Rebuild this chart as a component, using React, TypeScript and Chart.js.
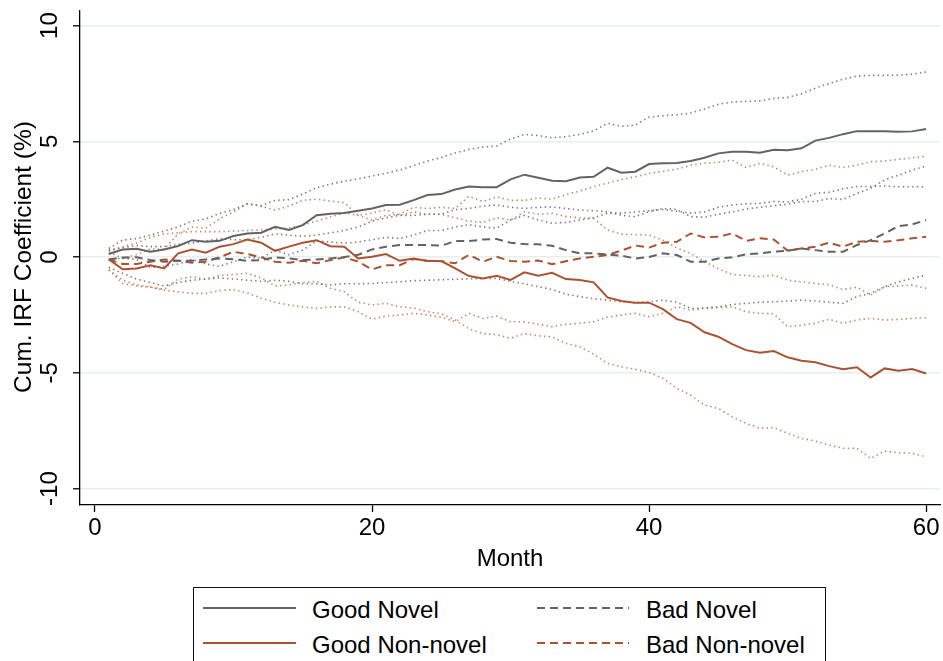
import React, { useEffect, useRef } from "react";
import { Chart, registerables } from "chart.js";

Chart.register(...registerables);

const FONT = "'Liberation Sans', Arial, Helvetica, sans-serif";

// Horizon in months
const months = [
  1, 2, 3, 4, 5, 6, 7, 8, 9, 10, 11, 12, 13, 14, 15, 16, 17, 18, 19, 20,
  21, 22, 23, 24, 25, 26, 27, 28, 29, 30, 31, 32, 33, 34, 35, 36, 37, 38, 39, 40,
  41, 42, 43, 44, 45, 46, 47, 48, 49, 50, 51, 52, 53, 54, 55, 56, 57, 58, 59, 60,
];

// Cumulative IRF point estimates (%)
const goodNovel = [
  0.13, 0.33, 0.36, 0.23, 0.33, 0.48, 0.73, 0.66, 0.70, 0.91,
  1.02, 1.05, 1.31, 1.17, 1.38, 1.81, 1.87, 1.90, 2.00, 2.10,
  2.25, 2.26, 2.46, 2.68, 2.72, 2.92, 3.05, 3.02, 3.02, 3.36,
  3.56, 3.43, 3.30, 3.28, 3.44, 3.47, 3.86, 3.64, 3.69, 4.02,
  4.05, 4.06, 4.15, 4.29, 4.48, 4.55, 4.55, 4.51, 4.64, 4.62,
  4.70, 5.03, 5.15, 5.31, 5.44, 5.44, 5.44, 5.41, 5.43, 5.53,
];
const goodNonNovel = [
  -0.10, -0.53, -0.49, -0.35, -0.49, 0.16, 0.33, 0.19, 0.45, 0.56,
  0.76, 0.62, 0.27, 0.45, 0.62, 0.73, 0.47, 0.45, -0.06, 0.01,
  0.13, -0.16, -0.06, -0.17, -0.17, -0.49, -0.82, -0.92, -0.81, -0.99,
  -0.66, -0.81, -0.68, -0.95, -0.99, -1.09, -1.74, -1.90, -1.97, -1.97,
  -2.25, -2.68, -2.84, -3.25, -3.44, -3.76, -4.02, -4.13, -4.06, -4.33,
  -4.48, -4.54, -4.71, -4.85, -4.76, -5.20, -4.81, -4.91, -4.84, -5.03,
];
const badNovel = [
  -0.10, -0.02, -0.01, -0.13, -0.20, -0.16, -0.16, -0.10, -0.06, -0.10,
  -0.16, -0.13, -0.01, -0.06, -0.13, -0.10, -0.06, 0.00, 0.10, 0.33,
  0.45, 0.52, 0.52, 0.52, 0.49, 0.69, 0.69, 0.76, 0.78, 0.62,
  0.56, 0.55, 0.49, 0.30, 0.16, 0.16, 0.11, 0.06, -0.06, 0.00,
  0.16, 0.09, -0.20, -0.20, -0.06, -0.01, 0.12, 0.16, 0.23, 0.28,
  0.37, 0.30, 0.23, 0.23, 0.52, 0.73, 1.02, 1.34, 1.41, 1.60,
];
const badNonNovel = [
  -0.10, -0.30, -0.30, -0.20, -0.10, -0.16, -0.24, -0.20, -0.01, 0.23,
  0.13, -0.01, -0.20, -0.24, -0.16, -0.27, -0.13, -0.01, -0.20, -0.53,
  -0.35, -0.35, -0.08, -0.16, -0.18, -0.27, 0.10, -0.20, 0.01, -0.17,
  -0.20, -0.15, -0.31, -0.18, -0.06, 0.01, 0.09, 0.28, 0.50, 0.41,
  0.62, 0.66, 1.02, 0.85, 0.88, 1.02, 0.70, 0.81, 0.76, 0.28,
  0.37, 0.45, 0.62, 0.45, 0.66, 0.70, 0.66, 0.73, 0.81, 0.88,
];

// Confidence bands (upper / lower)
const goodNovelHi = [
  0.37, 0.73, 0.80, 0.95, 1.12, 1.30, 1.55, 1.65, 1.88, 2.05,
  2.30, 2.22, 2.45, 2.48, 2.72, 3.00, 3.15, 3.28, 3.38, 3.50,
  3.62, 3.76, 3.95, 4.15, 4.30, 4.50, 4.65, 4.75, 4.80, 5.10,
  5.30, 5.25, 5.15, 5.20, 5.30, 5.45, 5.78, 5.65, 5.70, 6.05,
  6.10, 6.15, 6.22, 6.40, 6.60, 6.70, 6.72, 6.75, 6.85, 6.90,
  7.05, 7.30, 7.50, 7.68, 7.82, 7.85, 7.85, 7.86, 7.90, 8.00,
];
const goodNovelLo = [
  -0.10, -0.05, -0.10, -0.45, -0.40, -0.30, -0.10, -0.30, -0.40, -0.20,
  0.00, -0.05, 0.30, 0.10, 0.30, 0.70, 0.65, 0.60, 0.65, 0.75,
  0.85, 0.80, 0.95, 1.15, 1.15, 1.30, 1.40, 1.30, 1.25, 1.60,
  1.80, 1.60, 1.46, 1.50, 1.60, 1.70, 1.90, 1.90, 1.95, 2.00,
  2.05, 1.98, 1.90, 1.95, 2.15, 2.25, 2.30, 2.32, 2.40, 2.38,
  2.50, 2.75, 2.80, 2.95, 3.05, 3.05, 3.07, 3.04, 3.04, 3.04,
];
const badNovelHi = [
  0.30, 0.40, 0.50, 0.45, 0.45, 0.55, 0.60, 0.70, 0.80, 0.75,
  0.75, 0.85, 1.00, 0.95, 0.90, 0.95, 1.05, 1.15, 1.30, 1.55,
  1.70, 1.80, 1.80, 1.85, 1.85, 2.05, 2.10, 2.20, 2.25, 2.15,
  2.10, 2.15, 2.17, 2.10, 2.03, 2.00, 1.96, 1.81, 1.74, 1.96,
  2.10, 2.05, 1.75, 1.72, 1.85, 1.95, 2.08, 2.15, 2.22, 2.28,
  2.40, 2.40, 2.53, 2.49, 2.75, 2.97, 3.33, 3.54, 3.76, 3.93,
];
const badNovelLo = [
  -0.45, -0.70, -0.95, -1.10, -1.25, -1.10, -1.00, -0.95, -0.90, -0.95,
  -1.00, -1.05, -1.00, -1.05, -1.15, -1.15, -1.20, -1.15, -1.15, -1.14,
  -1.10, -1.07, -1.02, -1.00, -0.98, -0.96, -0.94, -0.93, -0.92, -1.05,
  -1.15, -1.28, -1.40, -1.60, -1.71, -1.80, -1.86, -1.93, -1.98, -1.93,
  -1.86, -1.95, -2.22, -2.20, -2.15, -2.05, -2.00, -1.95, -1.93, -1.90,
  -1.86, -1.90, -1.95, -2.00, -1.71, -1.57, -1.28, -1.07, -0.92, -0.78,
];
const goodNonNovelHi = [
  0.20, -0.05, 0.10, 0.35, 0.35, 1.00, 1.30, 1.25, 1.65, 1.95,
  2.30, 2.20, 2.03, 2.20, 2.45, 2.50, 2.42, 2.35, 1.80, 1.90,
  2.05, 1.80, 1.95, 1.85, 1.85, 1.70, 1.55, 1.50, 1.70, 1.60,
  1.95, 1.85, 1.89, 1.75, 1.70, 1.67, 1.17, 0.99, 0.97, 0.95,
  0.73, 0.40, 0.16, -0.20, -0.50, -0.75, -0.80, -0.85, -0.78, -1.00,
  -1.07, -1.14, -1.20, -1.40, -1.30, -1.64, -1.28, -1.25, -1.21, -1.35,
];
const goodNonNovelLo = [
  -0.55, -1.00, -1.20, -1.30, -1.40, -0.95, -0.85, -0.95, -0.80, -0.75,
  -0.70, -0.90, -1.25, -1.20, -1.10, -1.05, -1.35, -1.50, -1.95, -2.07,
  -2.00, -2.15, -2.20, -2.36, -2.45, -2.72, -3.10, -3.30, -3.35, -3.51,
  -3.30, -3.40, -3.45, -3.73, -3.87, -4.20, -4.59, -4.74, -4.85, -4.98,
  -5.24, -5.67, -5.96, -6.39, -6.54, -6.90, -7.18, -7.40, -7.36, -7.62,
  -7.83, -7.95, -8.12, -8.26, -8.26, -8.70, -8.38, -8.45, -8.48, -8.63,
];
const badNonNovelHi = [
  0.25, 0.45, 0.60, 0.85, 1.00, 1.05, 1.10, 1.10, 1.10, 1.12,
  1.15, 1.17, 1.22, 1.25, 1.38, 1.55, 1.74, 1.90, 1.80, 1.60,
  1.80, 1.85, 2.15, 2.10, 2.15, 2.10, 2.63, 2.40, 2.60, 2.45,
  2.45, 2.55, 2.50, 2.70, 2.85, 3.04, 3.20, 3.35, 3.47, 3.61,
  3.70, 3.80, 3.97, 4.05, 4.10, 4.19, 3.87, 4.05, 3.90, 3.54,
  3.69, 3.79, 3.97, 3.87, 3.97, 4.12, 4.15, 4.22, 4.29, 4.36,
];
const badNonNovelLo = [
  -0.55, -1.14, -1.25, -1.30, -1.43, -1.50, -1.57, -1.57, -1.45, -1.40,
  -1.55, -1.78, -1.95, -2.07, -2.15, -2.22, -2.15, -2.15, -2.36, -2.68,
  -2.55, -2.50, -2.43, -2.50, -2.60, -2.79, -2.43, -2.65, -2.55, -2.79,
  -2.80, -2.90, -3.01, -2.90, -2.86, -2.79, -2.60, -2.50, -2.43, -2.58,
  -2.43, -2.15, -2.29, -2.22, -2.18, -2.15, -2.36, -2.43, -2.45, -3.01,
  -2.94, -2.86, -2.69, -2.86, -2.72, -2.65, -2.72, -2.69, -2.65, -2.62,
];

const xTicks = [0, 20, 40, 60];
const yTicks = [-10, -5, 0, 5, 10];

const legendLabels = ["Good Novel", "Good Non-novel", "Bad Novel", "Bad Non-novel"];

const GRAY = "#636363";
const BROWN = "#ab5330";
const GRAY_CI = "rgba(99,99,99,0.85)";
const BROWN_CI = "rgba(190,100,60,0.8)";

const pts = (vals: number[]) => months.map((m, i) => ({ x: m, y: vals[i] }));

const solid = (label: string, vals: number[], color: string) => ({
  label,
  data: pts(vals),
  borderColor: color,
  borderWidth: 2,
  pointRadius: 0,
  fill: false,
});
const dashed = (label: string, vals: number[], color: string) => ({
  ...solid(label, vals, color),
  borderDash: [8, 5],
});
const dotted = (label: string, vals: number[], color: string) => ({
  label,
  data: pts(vals),
  borderColor: color,
  borderWidth: 1.6,
  borderDash: [1.4, 3.3],
  pointRadius: 0,
  fill: false,
});

// Rotated y tick labels and y axis title
const yAxisText = {
  id: "yAxisText",
  afterDraw(chart: any) {
    const { ctx } = chart;
    const y = chart.scales.y;
    ctx.save();
    ctx.fillStyle = "#000";
    ctx.textAlign = "center";
    ctx.textBaseline = "alphabetic";
    ctx.font = `24px ${FONT}`;
    for (const v of yTicks) {
      ctx.save();
      ctx.translate(57, y.getPixelForValue(v));
      ctx.rotate(-Math.PI / 2);
      ctx.fillText(String(v), 0, 0);
      ctx.restore();
    }
    ctx.save();
    ctx.translate(31, 257);
    ctx.rotate(-Math.PI / 2);
    ctx.font = `24.5px ${FONT}`;
    ctx.fillText("Cum. IRF Coefficient (%)", 0, 0);
    ctx.restore();
    ctx.restore();
  },
};

export default function App() {
  const ref = useRef<HTMLCanvasElement | null>(null);

  useEffect(() => {
    if (!ref.current) return;
    Chart.defaults.font.family = FONT;
    const chart = new Chart(ref.current, {
      type: "line",
      data: {
        datasets: [
          solid(legendLabels[0], goodNovel, GRAY),
          solid(legendLabels[1], goodNonNovel, BROWN),
          dashed(legendLabels[2], badNovel, GRAY),
          dashed(legendLabels[3], badNonNovel, BROWN),
          dotted("gn_hi", goodNovelHi, GRAY_CI),
          dotted("gn_lo", goodNovelLo, GRAY_CI),
          dotted("gnn_hi", goodNonNovelHi, BROWN_CI),
          dotted("gnn_lo", goodNonNovelLo, BROWN_CI),
          dotted("bn_hi", badNovelHi, GRAY_CI),
          dotted("bn_lo", badNovelLo, GRAY_CI),
          dotted("bnn_hi", badNonNovelHi, BROWN_CI),
          dotted("bnn_lo", badNonNovelLo, BROWN_CI),
        ] as any,
      },
      options: {
        animation: false,
        responsive: false,
        devicePixelRatio: 1,
        layout: { padding: { top: 11, right: 3, bottom: 86, left: 0 } },
        elements: { line: { tension: 0 } },
        plugins: { legend: { display: false }, tooltip: { enabled: false } },
        scales: {
          x: {
            type: "linear",
            min: -1.08,
            max: 61.0,
            afterBuildTicks: (s: any) => {
              s.ticks = xTicks.map((v) => ({ value: v }));
            },
            afterFit: (s: any) => {
              s.height = 70;
            },
            grid: {
              drawOnChartArea: false,
              drawTicks: true,
              tickLength: 7,
              tickColor: "#000",
              tickWidth: 1.3,
            },
            border: { display: true, color: "#000", width: 1.3 },
            ticks: {
              autoSkip: false,
              maxRotation: 0,
              padding: 2,
              color: "#000",
              font: { size: 24, family: FONT, lineHeight: 1.2 },
            },
            title: {
              display: true,
              text: "Month",
              color: "#000",
              font: { size: 24, family: FONT, lineHeight: 1.2 },
              padding: { top: 0, bottom: 1.5 },
            },
          },
          y: {
            type: "linear",
            min: -10.71,
            max: 10.63,
            afterBuildTicks: (s: any) => {
              s.ticks = yTicks.map((v) => ({ value: v }));
            },
            afterFit: (s: any) => {
              s.width = 80;
            },
            grid: {
              color: "#e5eef0",
              lineWidth: 1.6,
              drawTicks: true,
              tickLength: 7,
              tickColor: "#000",
              tickWidth: 1.3,
            },
            border: { display: true, color: "#000", width: 1.3 },
            ticks: { display: false },
          },
        },
      },
      plugins: [yAxisText],
    });
    return () => chart.destroy();
  }, []);

  const textStyle = (left: number, top: number): React.CSSProperties => ({
    position: "absolute",
    left,
    top,
    fontFamily: FONT,
    fontSize: 24,
    lineHeight: "28px",
    color: "#000",
    whiteSpace: "nowrap",
  });

  return (
    <div
      style={{
        position: "fixed",
        left: 0,
        top: 0,
        width: 943,
        height: 661,
        background: "#fff",
        overflow: "hidden",
      }}
    >
      <canvas ref={ref} width={943} height={661} style={{ display: "block" }} />
      <div
        style={{
          position: "absolute",
          left: 193,
          top: 587,
          width: 633,
          height: 100,
          boxSizing: "border-box",
          border: "1.3px solid #111",
          background: "#fff",
        }}
      />
      <svg
        width={943}
        height={661}
        style={{ position: "absolute", left: 0, top: 0, pointerEvents: "none" }}
      >
        <line x1={203} y1={608} x2={296} y2={608} stroke={GRAY} strokeWidth={2} />
        <line x1={203} y1={643} x2={296} y2={643} stroke={BROWN} strokeWidth={2} />
        <line x1={537} y1={608} x2={629} y2={608} stroke={GRAY} strokeWidth={2} strokeDasharray="8 5" />
        <line x1={537} y1={643} x2={629} y2={643} stroke={BROWN} strokeWidth={2} strokeDasharray="8 5" />
      </svg>
      <span style={textStyle(312, 596)}>{legendLabels[0]}</span>
      <span style={textStyle(312, 631)}>{legendLabels[1]}</span>
      <span style={textStyle(646, 596)}>{legendLabels[2]}</span>
      <span style={textStyle(646, 631)}>{legendLabels[3]}</span>
    </div>
  );
}
